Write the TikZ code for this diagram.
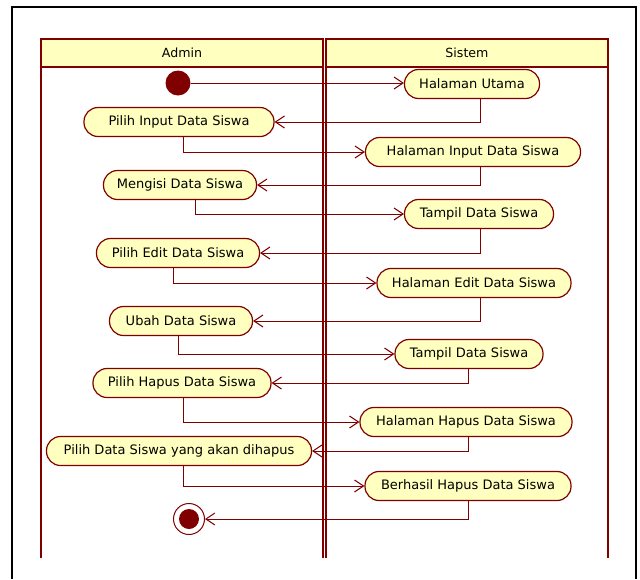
\documentclass[tikz,border=0pt]{standalone}
\usepackage{fontspec}
\setmainfont{DejaVu Sans}
\usetikzlibrary{arrows.meta}
\definecolor{umlred}{RGB}{128,0,0}
\definecolor{umlfill}{RGB}{255,255,192}

\begin{document}
\begin{tikzpicture}[x=1pt,y=-1pt,
  act/.style={draw=umlred, fill=umlfill, line width=1.2pt, rounded corners=14pt,
    minimum height=29pt, inner sep=0pt, font=\fontsize{13}{15}\selectfont},
  flow/.style={draw=umlred, line width=1pt, -{Straight Barb[length=9pt,width=12pt]}},
  lane/.style={draw=umlred, line width=2.6pt},
  lanehead/.style={font=\fontsize{12.6}{14}\selectfont}]

  % page and outer frame
  \useasboundingbox[fill=white] (0,0) rectangle (640,579);
  \draw[black, line width=2pt] (12,579) -- (12,7) -- (636,7) -- (636,579);

  % swimlanes
  \draw[lane, fill=umlfill] (41,39) rectangle (323,67);
  \draw[lane] (41,67) -- (41,558) (323,67) -- (323,558);
  \draw[lane, fill=umlfill] (326,39) rectangle (608,67);
  \draw[lane] (326,67) -- (326,558) (608,67) -- (608,558);
  \node[lanehead] (admin) at (182,53) {Admin};
  \node[lanehead] (sistem) at (467,53) {Sistem};

  % start and end
  \node[circle, fill=umlred, minimum size=25pt, inner sep=0pt] (start) at (178,83) {};
  \node[circle, draw=umlred, fill=white, line width=1pt, minimum size=31pt, inner sep=0pt] (stop) at (189,519) {};
  \fill[umlred] (stop.center) circle (10pt);

  % actions
  \node[act, minimum width=135pt] (hu) at (472,84) {Halaman Utama};
  \node[act, minimum width=190pt] (pi) at (179,122) {Pilih Input Data Siswa};
  \node[act, minimum width=215pt] (hi) at (473,152) {Halaman Input Data Siswa};
  \node[act, minimum width=153pt] (md) at (180,185) {Mengisi Data Siswa};
  \node[act, minimum width=149pt] (ta) at (479,214) {Tampil Data Siswa};
  \node[act, minimum width=163pt] (pe) at (178,253) {Pilih Edit Data Siswa};
  \node[act, minimum width=194pt] (he) at (474,283) {Halaman Edit Data Siswa};
  \node[act, minimum width=143pt] (ud) at (181,321) {Ubah Data Siswa};
  \node[act, minimum width=148pt] (tb) at (469,354) {Tampil Data Siswa};
  \node[act, minimum width=178pt] (ph) at (182,383) {Pilih Hapus Data Siswa};
  \node[act, minimum width=212pt] (hh) at (466,422) {Halaman Hapus Data Siswa};
  \node[act, minimum width=265pt] (pd) at (179,451) {Pilih Data Siswa yang akan dihapus};
  \node[act, minimum width=206pt] (bh) at (468,486) {Berhasil Hapus Data Siswa};

  % x positions of the vertical legs
  \coordinate (xa) at (480,0);
  \coordinate (xb) at (468,0);
  \coordinate (x183) at (183,0);
  \coordinate (x195) at (195,0);
  \coordinate (x173) at (173,0);
  \coordinate (x178) at (178,0);

  % control flow
  \draw[flow] (start) -- (start -| hu.west);
  \draw[flow] (hu.south -| xa) |- (pi.east);
  \draw[flow] (pi.south -| x183) |- (hi.west);
  \draw[flow] (hi.south -| xa) |- (md.east);
  \draw[flow] (md.south -| x195) |- (ta.west);
  \draw[flow] (ta.south -| xa) |- (pe.east);
  \draw[flow] (pe.south -| x173) |- (he.west);
  \draw[flow] (he.south -| xa) |- (ud.east);
  \draw[flow] (ud.south -| x178) |- (tb.west);
  \draw[flow] (tb.south -| xb) |- (ph.east);
  \draw[flow] (ph.south -| x183) |- (hh.west);
  \draw[flow] (hh.south -| xb) |- (pd.east);
  \draw[flow] (pd.south -| x183) |- (bh.west);
  \draw[flow] (bh.south -| xb) |- (stop.east);
\end{tikzpicture}
\end{document}
